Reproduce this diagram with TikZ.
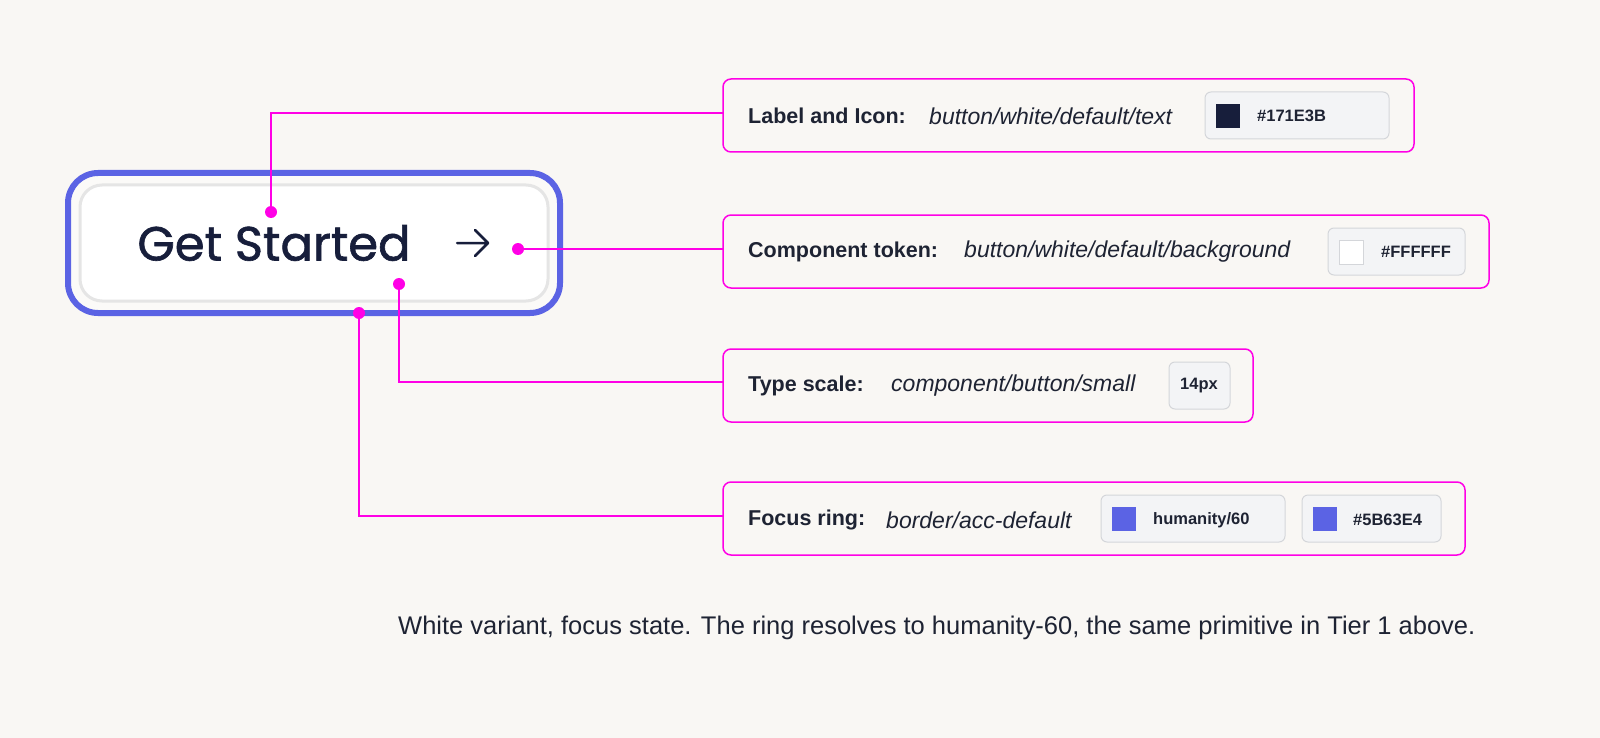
\documentclass[tikz,border=0pt]{standalone}
\usepackage{fontspec}
\setmainfont{Liberation Sans}
\newfontfamily\pop[FakeBold=1.3]{Poppins}
\begin{document}
\begin{tikzpicture}[x=1pt,y=-1pt,
  lab/.style={anchor=west,font=\fontsize{21.5}{24}\selectfont\bfseries,text=txt,inner sep=0},
  tok/.style={anchor=west,font=\fontsize{23}{26}\selectfont\itshape,text=txt,inner sep=0},
  chiptxt/.style={anchor=west,font=\fontsize{16.5}{18}\selectfont\bfseries,text=txt,inner sep=0},
  box/.style={draw=mag,line width=1.5pt,rounded corners=8pt,fill=bg},
  chip/.style={draw=chipb,line width=1pt,rounded corners=6pt,fill=chipf},
  dot/.style={circle,fill=mag,inner sep=0,minimum size=12pt},
  con/.style={draw=mag,line width=1.5pt}]
\definecolor{bg}{HTML}{F9F7F4}
\definecolor{mag}{HTML}{FF00E6}
\definecolor{txt}{HTML}{1E2333}
\definecolor{ring}{HTML}{5B63E4}
\definecolor{dark}{HTML}{171E3B}
\definecolor{chipb}{HTML}{D4D6DA}
\definecolor{chipf}{HTML}{F3F4F6}
\fill[bg] (0,0) rectangle (1600,738);
\useasboundingbox (0,0) rectangle (1600,738);
% button
\draw[ring,line width=6pt,rounded corners=30pt,fill=bg!60!white] (68,173) rectangle (560,313);
\draw[draw=black!10,line width=3pt,rounded corners=22pt,fill=white] (80,185) rectangle (548,301);
\node[font=\pop\fontsize{48}{52}\selectfont,text=dark,inner sep=0] (gs) at (274,243) {Get Started};
\draw[dark,line width=2.5pt,line cap=round,line join=round] (457,243) -- (488,243) (475,230) -- (488,243) -- (475,256);
% boxes
\draw[box] (723,79) rectangle (1414,152);
\coordinate (b1) at (723,113);
\node[lab] at (748,116) {Label and Icon:};
\node[tok] at (929,116) {button/white/default/text};
\draw[chip] (1205,92) rectangle (1389,139);
\fill[dark] (1216,104) rectangle (1240,128);
\node[chiptxt] at (1257,116) {\#171E3B};

\draw[box] (723,215) rectangle (1489,288);
\coordinate (b2) at (723,249);
\node[lab] at (748,252) {Component token:};
\node[tok] at (964,252) {button/white/default/background};
\draw[chip] (1328,228) rectangle (1465,275);
\draw[fill=white,draw=chipb,line width=0.8pt] (1339,240) rectangle (1363,264);
\node[chiptxt] at (1381,252) {\#FFFFFF};

\draw[box] (723,349) rectangle (1253,422);
\coordinate (b3) at (723,382);
\node[lab] at (748,386) {Type scale:};
\node[tok] at (891,386) {component/button/small};
\draw[chip] (1169,362) rectangle (1230,409);
\node[chiptxt] at (1180,386) {14px};

\draw[box] (723,482) rectangle (1465,555);
\coordinate (b4) at (723,516);
\node[lab] at (748,520) {Focus ring:};
\node[tok] at (886,520) {border/acc-default};
\draw[chip] (1101,495) rectangle (1285,542);
\fill[ring] (1112,507) rectangle (1136,531);
\node[chiptxt] at (1153,520) {humanity/60};
\draw[chip] (1302,495) rectangle (1441,542);
\fill[ring] (1313,507) rectangle (1337,531);
\node[chiptxt] at (1353,520) {\#5B63E4};
% connectors
\node[dot] (d1) at (271,212) {};
\node[dot] (d2) at (518,249) {};
\node[dot] (d3) at (399,284) {};
\node[dot] (d4) at (359,313) {};
\draw[con] (d1.center) |- (b1);
\draw[con] (d2.center) -- (b2);
\draw[con] (d3.center) |- (b3);
\draw[con] (d4.center) |- (b4);
% caption
\node[anchor=west,inner sep=0,text=txt,font=\fontsize{25.5}{28}\selectfont] (cap) at (398,628) {White variant, focus state. The ring resolves to humanity-60, the same primitive in Tier 1 above.};
\end{tikzpicture}
\end{document}
